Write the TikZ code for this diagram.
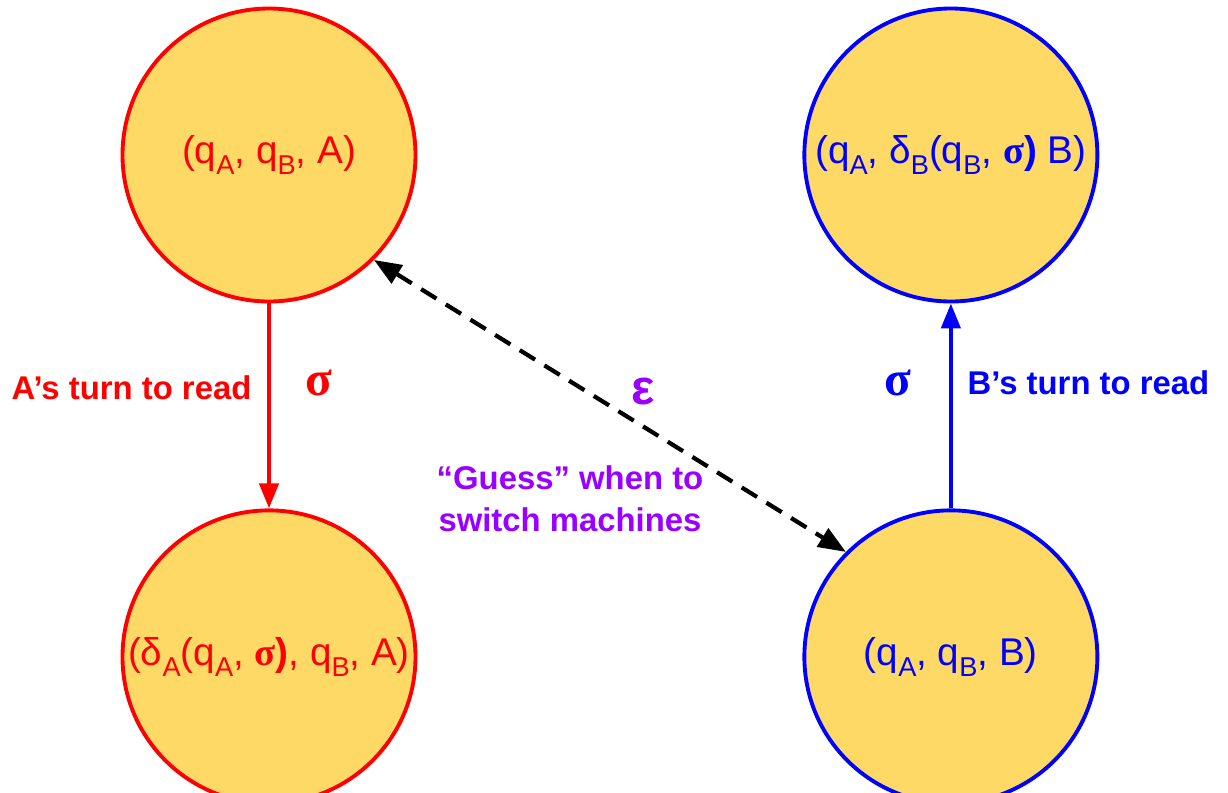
\documentclass[tikz,border=0pt]{standalone}
\usepackage{fontspec}
\setmainfont{Liberation Sans}
\newfontfamily\sigmafont{Liberation Serif}
\usetikzlibrary{arrows.meta,positioning}
\definecolor{confyellow}{HTML}{FFD966}
\definecolor{guesspurple}{HTML}{9900FF}
\newcommand{\ssub}[1]{\raisebox{-0.3em}{\fontsize{15.5}{16}\selectfont #1}}
\newcommand{\bsig}{{\sigmafont\bfseries σ}}
\tikzset{
  confnode/.style = {circle, fill=confyellow, line width=2.2pt, minimum size=5.86cm,
    inner sep=0pt, font=\fontsize{22}{26}\selectfont},
  aconf/.style = {confnode, draw=red, text=red},
  bconf/.style = {confnode, draw=blue, text=blue},
  turnlabel/.style = {font=\fontsize{18.7}{22}\selectfont\bfseries, inner sep=0pt},
  symlabel/.style = {font=\fontsize{28}{30}\selectfont\sigmafont\bfseries, inner sep=0pt},
  readarrow/.style = {line width=2.4pt, -{Triangle[length=0.5cm, width=0.38cm]}},
  guessarrow/.style = {line width=2.4pt, dash pattern=on 0.36cm off 0.22cm,
    {Triangle[length=0.55cm, width=0.42cm]}-{Triangle[length=0.55cm, width=0.42cm]}}
}
\begin{document}
\begin{tikzpicture}
\useasboundingbox (0,0) rectangle (24.56,-15.84);

% machine A reads
\node[aconf] (qa) at (5.38,-3.1) {(q\ssub{A}, q\ssub{B}, A)};
\node[aconf, below=4.1cm of qa] (da) {(δ\ssub{A}(q\ssub{A}, \bsig\textbf{)}, q\ssub{B}, A)};

% machine B reads
\node[bconf, right=7.7cm of qa] (db) {(q\ssub{A}, δ\ssub{B}(q\ssub{B}, \bsig\textbf{)} B)};
\node[bconf, below=4.1cm of db] (qb) {(q\ssub{A}, q\ssub{B}, B)};

\draw[readarrow, red] (qa) -- (da);
\draw[readarrow, blue] (qb) -- (db);
\draw[guessarrow] (qa.south east) -- (qb.north west);

\node[turnlabel, text=red] (aturn) at (2.63,-7.76) {A’s turn to read};
\node[symlabel, text=red] (asig) at (6.38,-7.66) {σ};
\node[symlabel, text=blue] (bsig) at (17.95,-7.66) {σ};
\node[turnlabel, text=blue] (bturn) at (21.77,-7.66) {B’s turn to read};
\node[font=\fontsize{28}{30}\selectfont\bfseries, text=guesspurple, inner sep=0pt] (eps) at (12.86,-7.82) {ε};
\node[turnlabel, text=guesspurple, align=center, font=\fontsize{18.7}{24}\selectfont\bfseries]
  (guess) at (11.4,-9.98) {“Guess” when to\\switch machines};

\end{tikzpicture}
\end{document}
